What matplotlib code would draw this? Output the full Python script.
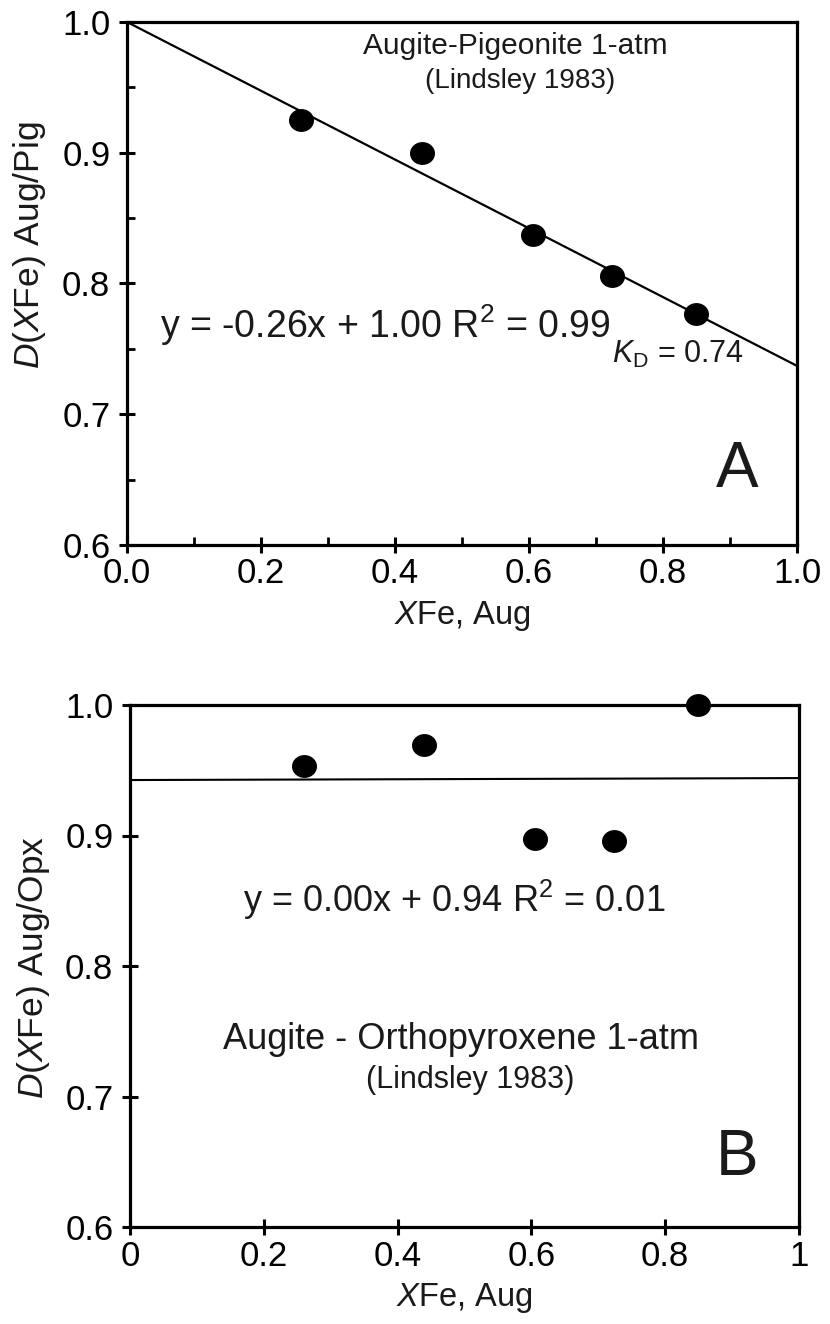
import matplotlib
matplotlib.use("Agg")
import matplotlib.pyplot as plt
import numpy as np
from matplotlib.path import Path
from matplotlib.ticker import FixedLocator

plt.rcParams['font.family'] = ['Liberation Sans', 'DejaVu Sans']
plt.rcParams['mathtext.fontset'] = 'custom'
plt.rcParams['mathtext.rm'] = 'Liberation Sans'
plt.rcParams['mathtext.it'] = 'Liberation Sans:italic'
plt.rcParams['mathtext.bf'] = 'Liberation Sans:bold'

# ---- data ----
xfe_aug = [0.26, 0.44, 0.606, 0.724, 0.849]
d_aug_pig = [0.925, 0.900, 0.837, 0.806, 0.777]
d_aug_opx = [0.953, 0.969, 0.897, 0.896, 1.000]
fit_a = (-0.263, 1.000)     # slope, intercept for panel A
fit_b = (0.0015, 0.9425)    # slope, intercept for panel B
x_ticks = [0.0, 0.2, 0.4, 0.6, 0.8, 1.0]
x_labels_a = ['0.0', '0.2', '0.4', '0.6', '0.8', '1.0']
x_labels_b = ['0', '0.2', '0.4', '0.6', '0.8', '1']
y_ticks = [0.6, 0.7, 0.8, 0.9, 1.0]
y_labels = ['0.6', '0.7', '0.8', '0.9', '1.0']

# ellipse marker (slightly wider than tall)
t = np.linspace(0, 2 * np.pi, 60)
ell = Path(np.column_stack([1.1 * np.cos(t), np.sin(t)]), closed=True)

fig = plt.figure(figsize=(8.3, 13.24), dpi=100)
axA = fig.add_axes([127 / 830, 1 - 545 / 1324, 670 / 830, 523 / 1324])
axB = fig.add_axes([130 / 830, 1 - 1227 / 1324, 669 / 830, 522 / 1324])

TXT = '#1a1a1a'
TICK_FS = 25
for ax in (axA, axB):
    ax.set_xlim(0, 1)
    ax.set_ylim(0.6, 1.0)
    for s in ax.spines.values():
        s.set_linewidth(2.3)
        s.set_color('black')
    ax.set_yticks(y_ticks)
    ax.set_yticklabels(y_labels)
    ax.set_xticks(x_ticks)
    ax.tick_params(axis='both', which='major', direction='inout', length=12, width=2.2,
                   labelsize=TICK_FS, colors='black')
    ax.tick_params(axis='x', pad=3)
    ax.tick_params(axis='y', pad=6)

# ---- Panel A ----
axA.set_xticklabels(x_labels_a)
axA.xaxis.set_minor_locator(FixedLocator([0.1, 0.3, 0.5, 0.7, 0.9]))
axA.yaxis.set_minor_locator(FixedLocator([0.65, 0.75, 0.85, 0.95]))
axA.tick_params(which='minor', direction='in', length=6, width=2.0)
xx = np.array([0.0, 1.0])
axA.plot(xx, fit_a[0] * xx + fit_a[1], color='black', lw=1.6, zorder=2)
axA.plot(xfe_aug, d_aug_pig, linestyle='none', marker=ell, markersize=17,
         color='black', zorder=3, clip_on=False)
axA.text(0.579, 0.982, 'Augite-Pigeonite 1-atm', ha='center', va='center', fontsize=21.5, color=TXT)
axA.text(0.587, 0.955, '(Lindsley 1983)', ha='center', va='center', fontsize=20, color=TXT)
axA.text(0.049, 0.768, r'y = -0.26x + 1.00 R$^{2}$ = 0.99', ha='left', va='center',
         fontsize=27, color=TXT)
axA.text(0.724, 0.746, r'$\mathit{K}_{\mathrm{D}}$ = 0.74', ha='left', va='center',
         fontsize=22, color=TXT)
axA.text(0.91, 0.657, 'A', ha='center', va='center', fontsize=46, color=TXT)
axA.set_xlabel(r'$\mathit{X}$Fe, Aug', fontsize=23.5, color=TXT, labelpad=6)
axA.set_ylabel(r'$\mathit{D}$($\mathit{X}$Fe) Aug/Pig', fontsize=25.5, color=TXT)
axA.yaxis.set_label_coords(-0.118, 0.574)

# ---- Panel B ----
axB.set_xticklabels(x_labels_b)
axB.plot(xx, fit_b[0] * xx + fit_b[1], color='black', lw=1.5, zorder=2)
axB.plot(xfe_aug, d_aug_opx, linestyle='none', marker=ell, markersize=17,
         color='black', zorder=3, clip_on=False)
axB.text(0.169, 0.851, r'y = 0.00x + 0.94 R$^{2}$ = 0.01', ha='left', va='center',
         fontsize=26, color=TXT)
axB.text(0.495, 0.744, 'Augite - Orthopyroxene 1-atm', ha='center', va='center',
         fontsize=26, color=TXT)
axB.text(0.508, 0.713, '(Lindsley 1983)', ha='center', va='center', fontsize=22, color=TXT)
axB.text(0.907, 0.653, 'B', ha='center', va='center', fontsize=46, color=TXT)
axB.set_xlabel(r'$\mathit{X}$Fe, Aug', fontsize=23.5, color=TXT, labelpad=6)
axB.set_ylabel(r'$\mathit{D}$($\mathit{X}$Fe) Aug/Opx', fontsize=25.5, color=TXT)
axB.yaxis.set_label_coords(-0.117, 0.498)

fig.savefig('out.png', dpi=100)
